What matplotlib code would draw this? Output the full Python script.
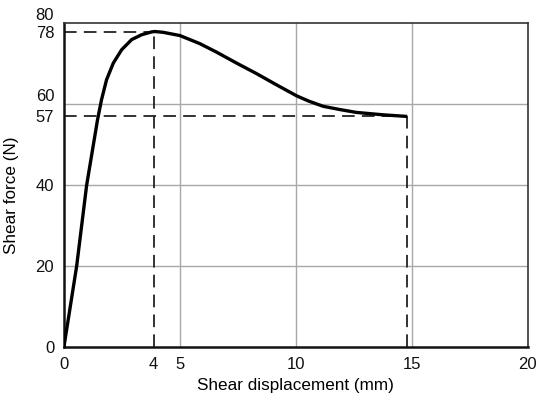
import matplotlib
matplotlib.use("Agg")
import matplotlib.pyplot as plt

# Data
disp = [0, 0.55, 0.98, 1.45, 1.62, 1.84, 2.13, 2.49, 2.92, 3.35, 3.78, 3.92,
        4.28, 5.0, 5.86, 6.58, 7.44, 8.3, 9.17, 10.03, 10.55, 11.18, 11.9,
        12.6, 13.76, 14.8]
force = [0, 20, 40, 56.2, 61.1, 66.1, 70.2, 73.5, 76.0, 77.2, 77.9, 78.0,
         77.8, 77.0, 75.0, 72.9, 70.2, 67.6, 64.8, 62.1, 60.8, 59.5, 58.7,
         58.0, 57.4, 57.0]
peak_x, peak_y = 3.87, 78
end_x, end_y = 14.8, 57
xticks = [0, peak_x, 5, 10, 15, 20]
xticklabels = ["0", "4", "5", "10", "15", "20"]
yticks = [0, 20, 40, 57, 60, 78, 80]
yticklabels = ["0", "20", "40", "57", "60", "78", "80"]
xgrid = [5, 10, 15]
ygrid = [20, 40, 60]

plt.rcParams['font.family'] = ['Liberation Sans', 'DejaVu Sans']

fig = plt.figure(figsize=(5.37, 3.97), dpi=100)
ax = fig.add_axes([0.119, 0.126, 0.864, 0.815])

for gx in xgrid:
    ax.axvline(gx, color='#a8a8a8', lw=1.0, zorder=1)
for gy in ygrid:
    ax.axhline(gy, color='#a8a8a8', lw=1.0, zorder=1)

dash = (0, (7, 4))
ax.plot([0, peak_x], [peak_y, peak_y], color='#222222', lw=1.3, ls=dash, zorder=2)
ax.plot([peak_x, peak_x], [0, peak_y], color='#222222', lw=1.3, ls=dash, zorder=2)
ax.plot([0, end_x], [end_y, end_y], color='#222222', lw=1.3, ls=dash, zorder=2)
ax.plot([end_x, end_x], [0, end_y], color='#222222', lw=1.3, ls=dash, zorder=2)

ax.plot(disp, force, color='black', lw=2.4, solid_capstyle='butt',
        solid_joinstyle='round', zorder=3)

ax.set_xlim(0, 20)
ax.set_ylim(0, 80)
ax.set_xticks(xticks)
ax.set_xticklabels(xticklabels)
ax.set_yticks(yticks)
ax.set_yticklabels(yticklabels)
ax.tick_params(length=0, labelsize=12, pad=7, colors='#111111')
for lab in ax.get_yticklabels():
    if lab.get_text() in ("80", "60"):
        lab.set_verticalalignment('bottom')

for s in ['left', 'bottom']:
    ax.spines[s].set_linewidth(1.8)
    ax.spines[s].set_color('#111111')
for s in ['top', 'right']:
    ax.spines[s].set_linewidth(1.2)
    ax.spines[s].set_color('#333333')

ax.set_xlabel('Shear displacement (mm)', fontsize=12.3)
ax.set_ylabel('Shear force (N)', fontsize=12.3)
ax.xaxis.set_label_coords(0.5, -0.095)
ax.yaxis.set_label_coords(-0.097, 0.47)

fig.savefig('out.png', dpi=100)
